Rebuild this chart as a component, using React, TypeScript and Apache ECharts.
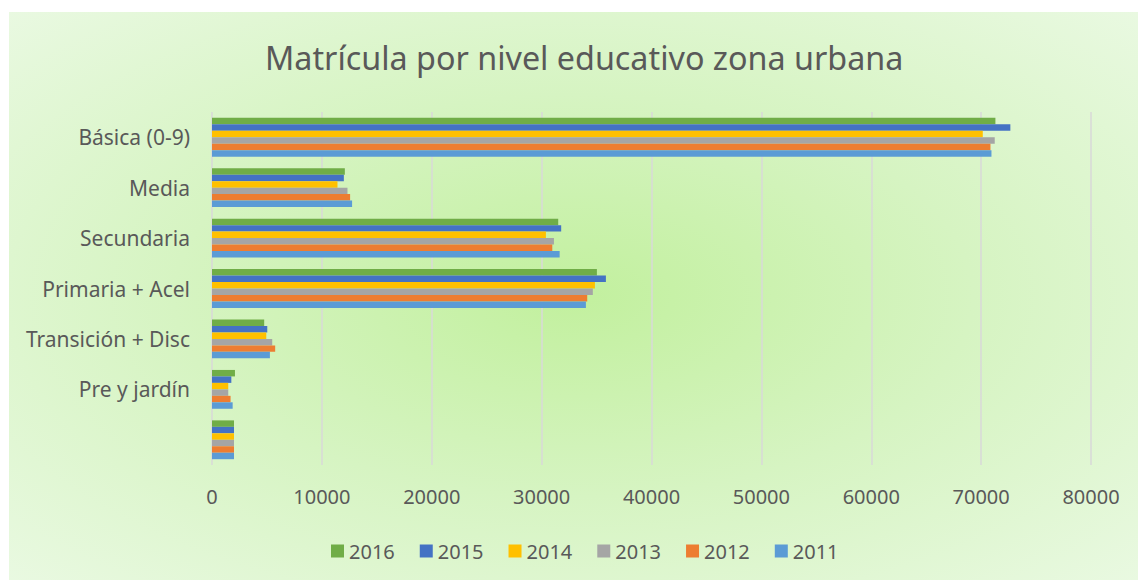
import React, { useEffect, useRef } from "react";
import * as echarts from "echarts";

const categories = ["", "Pre y jardín", "Transición + Disc", "Primaria + Acel", "Secundaria", "Media", "Básica (0-9)"];
const years = ["2016", "2015", "2014", "2013", "2012", "2011"];
const values2016 = [2000, 2090, 4750, 35030, 31510, 12090, 71300];
const values2015 = [2000, 1760, 5030, 35850, 31780, 12000, 72660];
const values2014 = [2000, 1480, 4940, 34850, 30390, 11420, 70150];
const values2013 = [2000, 1480, 5480, 34660, 31120, 12330, 71240];
const values2012 = [2000, 1690, 5750, 34150, 30970, 12570, 70850];
const values2011 = [2000, 1880, 5270, 34030, 31640, 12750, 70940];
const seriesValues = [values2016, values2015, values2014, values2013, values2012, values2011];
const colors = ["#70AD47", "#4472C4", "#FFC000", "#A5A5A5", "#ED7D31", "#5B9BD5"];
const title = "Matrícula por nivel educativo zona urbana";

const FONT = "'Noto Sans', sans-serif";
const TEXT = "#595959";

export default function App() {
  const ref = useRef<HTMLDivElement>(null);
  useEffect(() => {
    if (!ref.current) return;
    const chart = echarts.init(ref.current, undefined, { renderer: "svg" });
    chart.setOption({
      animation: false,
      backgroundColor: "transparent",
      textStyle: { fontFamily: FONT, color: TEXT },
      title: {
        text: title,
        left: 251,
        top: 24,
        textStyle: { fontFamily: FONT, color: TEXT, fontSize: 32.3, fontWeight: "normal" },
      },
      legend: {
        data: years,
        bottom: 14,
        left: 317,
        itemWidth: 13,
        itemHeight: 13,
        itemGap: 25,
        icon: "rect",
        textStyle: { fontFamily: FONT, color: TEXT, fontSize: 20 },
      },
      grid: { left: 203, right: 1129 - 1082, top: 100, bottom: 568 - 453, containLabel: false },
      xAxis: {
        type: "value",
        min: 0,
        max: 80000,
        interval: 10000,
        axisLine: { show: false },
        axisTick: { show: false },
        axisLabel: { color: TEXT, fontFamily: FONT, fontSize: 20, margin: 21, formatter: (v: number) => String(v) },
        splitLine: { show: true, lineStyle: { color: "#D9D9D9", width: 1.5 } },
      },
      yAxis: {
        type: "category",
        data: categories,
        axisLine: { show: false },
        axisTick: { show: false },
        axisLabel: { color: TEXT, fontFamily: FONT, fontSize: 21, margin: 22 },
      },
      series: years.map((y, i) => ({
        name: y,
        type: "bar",
        data: seriesValues[i],
        itemStyle: { color: colors[i] },
        barGap: "0%",
        barCategoryGap: "23%",
      })),
    });
    return () => chart.dispose();
  }, []);
  return (
    <div
      ref={ref}
      style={{
        position: "absolute",
        left: 9,
        top: 12,
        width: 1129,
        height: 568,
        background: "radial-gradient(ellipse at 50% 50%, #c2f09e 0%, #d6f4c2 50%, #e9f9e1 100%)",
      }}
    />
  );
}
